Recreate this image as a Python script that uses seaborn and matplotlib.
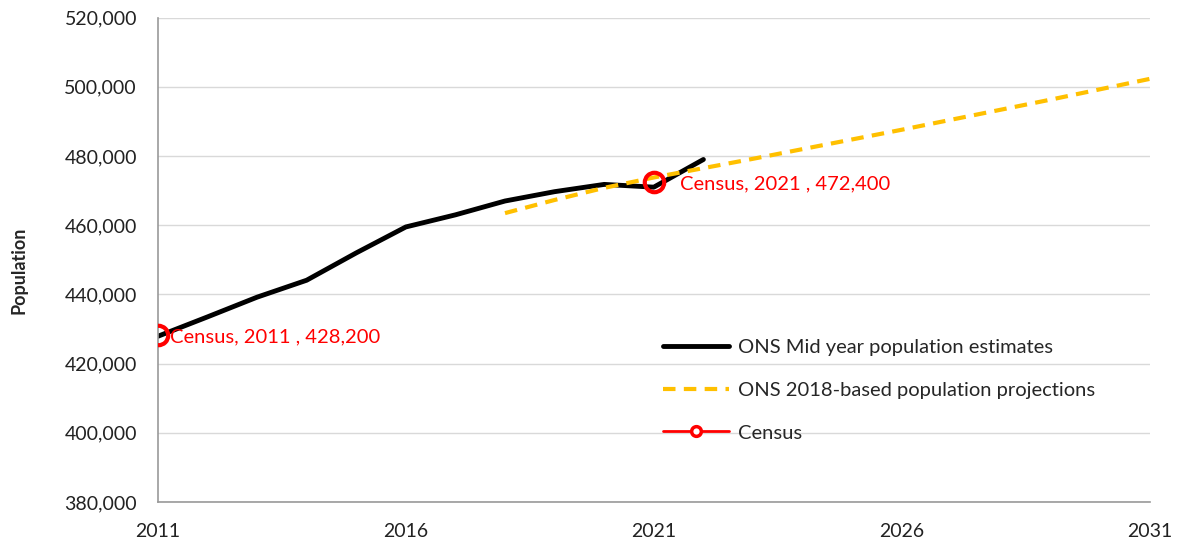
import matplotlib
matplotlib.use("Agg")
import matplotlib.pyplot as plt
from matplotlib.lines import Line2D
from matplotlib.ticker import FuncFormatter
import seaborn as sns
import pandas as pd

# ONS mid year population estimates
est_years = [2011, 2012, 2013, 2014, 2015, 2016, 2017, 2018, 2019, 2020, 2021, 2022]
est_values = [427900, 433500, 439200, 444100, 452000, 459500, 463000, 467000, 469700, 471800, 471000, 479000]

# ONS 2018-based population projections
proj_years = [2018, 2019, 2020, 2021, 2022, 2023, 2024, 2025, 2026, 2027, 2028, 2029, 2030, 2031]
proj_values = [463500, 467300, 470800, 473800, 476500, 479200, 482000, 484800, 487600,
               490500, 493400, 496300, 499300, 502300]

# Census counts
census_years = [2011, 2021]
census_values = [428200, 472400]
census_labels = ["Census, 2011 , 428,200", "Census, 2021 , 472,400"]

sns.set_style("white")
plt.rcParams['font.family'] = ['Lato', 'DejaVu Sans']

est = pd.DataFrame({'Year': est_years, 'Population': est_values})
proj = pd.DataFrame({'Year': proj_years, 'Population': proj_values})
census = pd.DataFrame({'Year': census_years, 'Population': census_values})

fig = plt.figure(figsize=(11.78, 5.43), dpi=100)
ax = fig.add_axes([0.134, 0.0755, 0.842, 0.892])

sns.lineplot(ax=ax, data=est, x='Year', y='Population', color='black', linewidth=3.5)
sns.lineplot(ax=ax, data=proj, x='Year', y='Population', color='#FFC000', linewidth=3,
             dashes=False, linestyle=(0, (3, 2)))
ax.plot(census['Year'], census['Population'], linestyle='none', marker='o', markersize=14,
        markerfacecolor='none', markeredgecolor='#FF0000', markeredgewidth=3, zorder=5)

# label offsets (points) to the right of each census marker
for yr, val, lab, dx in zip(census_years, census_values, census_labels, [9, 19]):
    ax.annotate(lab, (yr, val), xytext=(dx, -1), textcoords='offset points',
                color='#FF0000', fontsize=14.5, va='center', ha='left')

ax.set_xlim(2011, 2031)
ax.set_ylim(380000, 520000)
ax.set_xticks([2011, 2016, 2021, 2026, 2031])
ax.set_yticks(range(380000, 520001, 20000))
ax.yaxis.set_major_formatter(FuncFormatter(lambda v, p: f"{int(v):,}"))

ax.yaxis.grid(True, color='#d9d9d9', linewidth=1)
ax.xaxis.grid(False)
ax.set_axisbelow(True)
for s in ['top', 'right']:
    ax.spines[s].set_visible(False)
for s in ['left', 'bottom']:
    ax.spines[s].set_color('#999999')
    ax.spines[s].set_linewidth(1.2)
ax.tick_params(axis='both', which='major', direction='out', length=6, width=1,
               color='#999999', labelsize=14, labelcolor='#222222')
ax.tick_params(axis='x', pad=9)
ax.tick_params(axis='y', pad=9)

ax.set_xlabel('')
ax.set_ylabel('Population', fontsize=13, fontweight='bold')
ax.yaxis.set_label_coords(-0.131, 0.479)

handles = [
    Line2D([0], [0], color='black', linewidth=3.5),
    Line2D([0], [0], color='#FFC000', linewidth=3, linestyle=(0, (3, 2))),
    Line2D([0], [0], color='#FF0000', linewidth=2, marker='o', markersize=7,
           markerfacecolor='white', markeredgecolor='#FF0000', markeredgewidth=2.5),
]
labels = ['ONS Mid year population estimates', 'ONS 2018-based population projections', 'Census']
ax.legend(handles, labels, loc='center left', bbox_to_anchor=(0.509, 0.231), frameon=False,
          fontsize=14.5, handlelength=3.3, handletextpad=0.45, labelspacing=1.28,
          borderpad=0, borderaxespad=0)

fig.savefig('out.png', dpi=100)
